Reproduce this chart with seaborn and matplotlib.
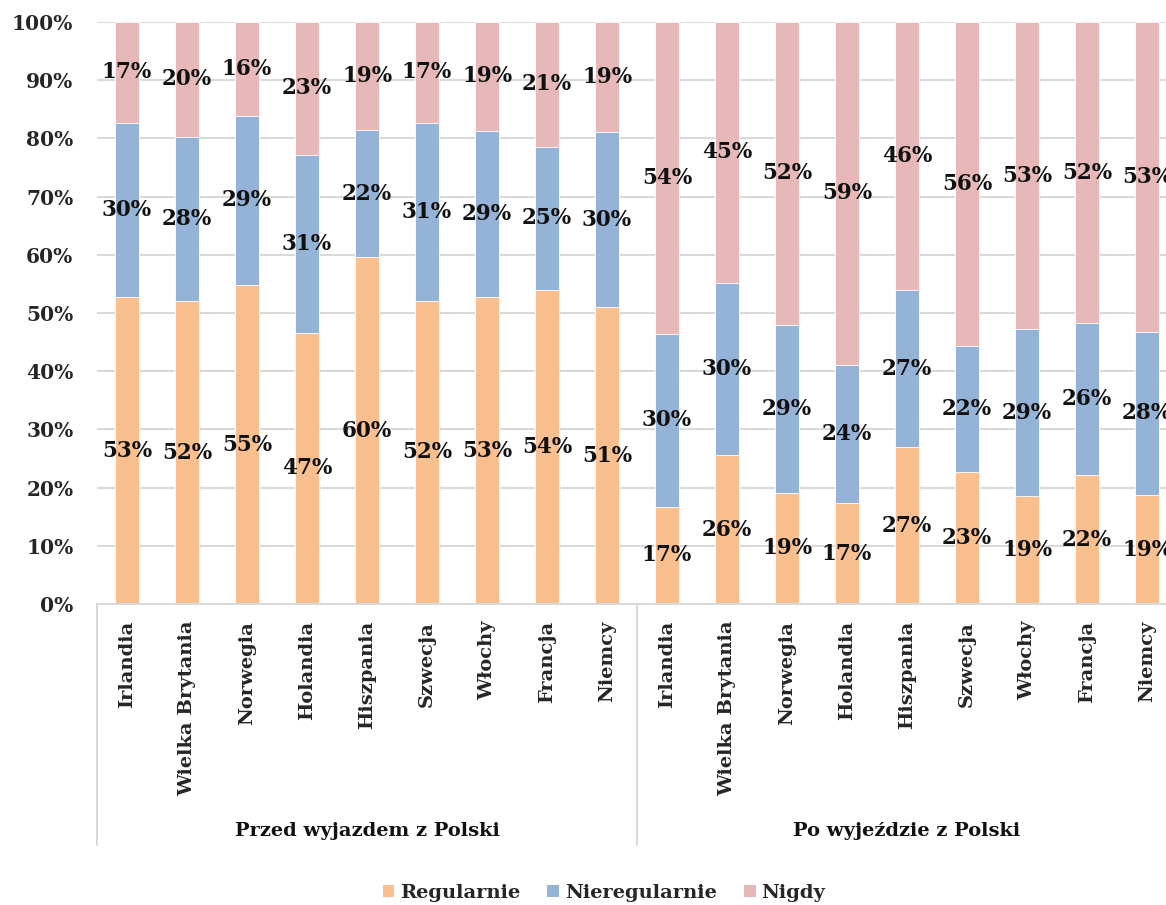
import numpy as np
import pandas as pd
import matplotlib.pyplot as plt
import matplotlib.transforms as mtransforms
from matplotlib.patches import Patch
import seaborn as sns

countries = ["Irlandia", "Wielka Brytania", "Norwegia", "Holandia", "Hiszpania",
             "Szwecja", "Włochy", "Francja", "Niemcy"]
periods = ["Przed wyjazdem z Polski", "Po wyjeździe z Polski"]
series = ["Regularnie", "Nieregularnie", "Nigdy"]

# shares in % (labels are the rounded values)
before_regular = [52.7, 52.0, 54.8, 46.6, 59.6, 52.1, 52.7, 53.9, 51.0]
before_irregular = [30.0, 28.3, 29.1, 30.6, 21.8, 30.6, 28.6, 24.7, 30.1]
before_never = [17.3, 19.7, 16.1, 22.8, 18.6, 17.3, 18.7, 21.4, 18.9]

after_regular = [16.7, 25.6, 19.1, 17.3, 26.9, 22.6, 18.6, 22.1, 18.7]
after_irregular = [29.7, 29.6, 28.9, 23.8, 27.1, 21.7, 28.6, 26.1, 28.1]
after_never = [53.6, 44.8, 52.0, 58.9, 46.0, 55.7, 52.8, 51.8, 53.2]

colors = {"Regularnie": "#F9BF8F", "Nieregularnie": "#95B3D7", "Nigdy": "#E6B9B8"}
FONT = "DejaVu Serif"

rows = []
for period, reg, irr, nev in [(periods[0], before_regular, before_irregular, before_never),
                              (periods[1], after_regular, after_irregular, after_never)]:
    for c, r, i, n in zip(countries, reg, irr, nev):
        rows.append({"bar": f"{period}|{c}", "period": period, "country": c,
                     "Regularnie": r, "Nieregularnie": i, "Nigdy": n})
df = pd.DataFrame(rows)
df["cum_reg"] = df["Regularnie"]
df["cum_irr"] = df["Regularnie"] + df["Nieregularnie"]
df["cum_all"] = df["cum_irr"] + df["Nigdy"]
order = df["bar"].tolist()

sns.set_style("white")
plt.rcParams["font.family"] = [FONT, "DejaVu Sans"]
plt.rcParams["font.weight"] = "bold"

fig = plt.figure(figsize=(11.66, 9.05), dpi=100)
ax = fig.add_axes([97 / 1166, 1 - 604 / 905, 1080 / 1166, 582 / 905])

# stacked bars drawn as overlapping cumulative totals
for col, name in [("cum_all", "Nigdy"), ("cum_irr", "Nieregularnie"), ("cum_reg", "Regularnie")]:
    sns.barplot(data=df, x="bar", y=col, order=order, color=colors[name],
                saturation=1, width=0.41, errorbar=None, edgecolor="white",
                linewidth=0.6, ax=ax)

# segment labels
for i, row in df.iterrows():
    bottom = 0
    for name in series:
        h = row[name]
        ax.text(i, bottom + h / 2, f"{h:.0f}%", ha="center", va="center",
                fontsize=15.5, fontweight="bold", color="#111111")
        bottom += h

ax.set_ylim(0, 100)
ax.set_xlim(-0.5, len(order) - 0.5)
ax.set_yticks(np.arange(0, 101, 10))
ax.set_yticklabels([f"{v}%" for v in range(0, 101, 10)], fontsize=14.5, fontweight="bold")
ax.set_xticks(range(len(order)))
ax.set_xticklabels(df["country"], rotation=90, fontsize=14, fontweight="bold", va="top")
ax.tick_params(axis="both", length=0)
ax.tick_params(axis="y", pad=17)
ax.tick_params(axis="x", pad=12)
ax.set_xlabel("")
ax.set_ylabel("")
ax.yaxis.grid(True, color="#D9D9D9", linewidth=1.4)
ax.set_axisbelow(True)
for side in ["top", "left", "right"]:
    ax.spines[side].set_visible(False)
ax.spines["bottom"].set_color("#D9D9D9")
ax.spines["bottom"].set_linewidth(1.5)

# multi-level category axis: group separators and group names
trans = mtransforms.blended_transform_factory(ax.transData, ax.transAxes)
line_bottom = -(845 - 604) / 582
for xpos in [-0.5, 8.5, 17.5]:
    ax.plot([xpos, xpos], [0, line_bottom], color="#D9D9D9", lw=1.5,
            transform=trans, clip_on=False)
for k, period in enumerate(periods):
    ax.text(4 + 9 * k, -(831 - 604) / 582, period, transform=trans, ha="center",
            va="center", fontsize=14, fontweight="bold", color="#111111")

handles = [Patch(facecolor=colors[s], edgecolor="none", label=s) for s in series]
fig.legend(handles=handles, loc="center", bbox_to_anchor=(0.518, 12 / 905), ncol=3,
           frameon=False, handlelength=0.6, handleheight=0.6, handletextpad=0.3,
           columnspacing=1.4, prop={"family": FONT, "weight": "bold", "size": 14})

fig.savefig("out.png", dpi=100)
